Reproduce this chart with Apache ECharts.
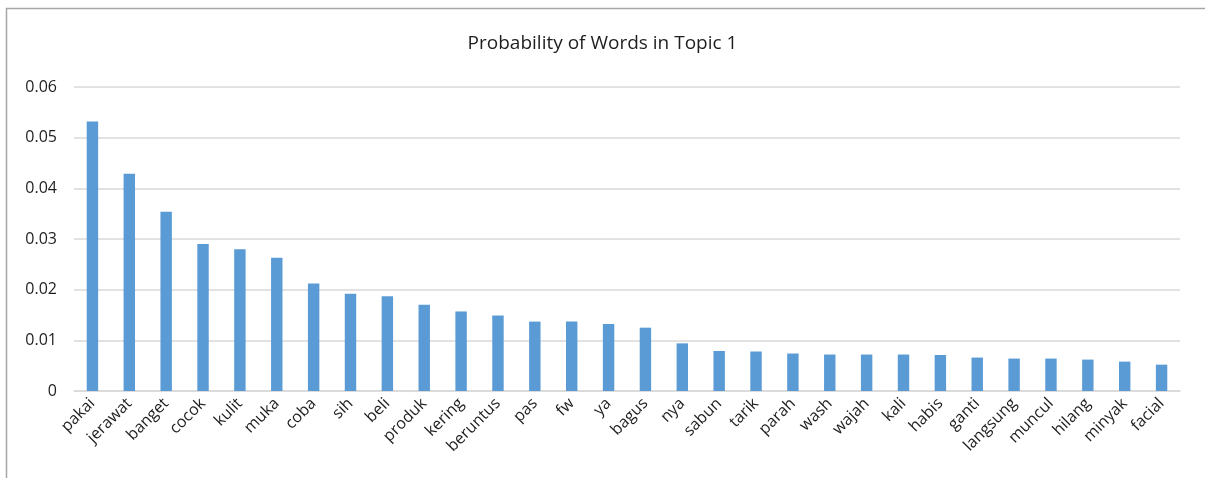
<!DOCTYPE html>
<html>
<head>
<meta charset="utf-8">
<script src="https://cdn.jsdelivr.net/npm/echarts@6/dist/echarts.min.js"></script>
<style>
  html, body { margin: 0; padding: 0; background: #fff; }
  #chart { width: 1205px; height: 478px; }
</style>
</head>
<body>
<div id="chart"></div>
<script>
// Words ranked by probability for topic 1
const words = ['pakai', 'jerawat', 'banget', 'cocok', 'kulit', 'muka', 'coba', 'sih', 'beli', 'produk',
  'kering', 'beruntus', 'pas', 'fw', 'ya', 'bagus', 'nya', 'sabun', 'tarik', 'parah',
  'wash', 'wajah', 'kali', 'habis', 'ganti', 'langsung', 'muncul', 'hilang', 'minyak', 'facial'];
const probabilities = [0.0532, 0.0429, 0.0354, 0.0290, 0.0280, 0.0263, 0.0212, 0.0192, 0.0187, 0.0170,
  0.0157, 0.0149, 0.0137, 0.0137, 0.0132, 0.0125, 0.0094, 0.0079, 0.0078, 0.0074,
  0.0072, 0.0072, 0.0072, 0.0071, 0.0066, 0.0064, 0.0064, 0.0062, 0.0058, 0.0052];
const yTicks = [0, 0.01, 0.02, 0.03, 0.04, 0.05, 0.06];
const titleText = 'Probability of Words in Topic 1';

const font = '"Open Sans", "Liberation Sans", sans-serif';
const textColor = '#1e1e1e';
const chart = echarts.init(document.getElementById('chart'), null, { renderer: 'canvas' });
chart.setOption({
  backgroundColor: '#ffffff',
  animation: false,
  title: {
    text: titleText,
    left: 'center',
    top: 29,
    textStyle: { fontFamily: font, fontSize: 19, fontWeight: 'normal', color: textColor }
  },
  graphic: [{
    type: 'polyline',
    shape: { points: [[6.5, 480], [6.5, 8.5], [1210, 8.5]] },
    style: { stroke: '#a6a6a6', lineWidth: 1.5, fill: null },
    silent: true
  }],
  grid: { left: 74, right: 25, top: 87, bottom: 87, containLabel: false },
  xAxis: {
    type: 'category',
    data: words,
    axisLine: { lineStyle: { color: '#d9d9d9', width: 1.5 } },
    axisTick: { show: false },
    axisLabel: {
      interval: 0, rotate: 45, margin: 10,
      fontFamily: font, fontSize: 16, color: textColor
    }
  },
  yAxis: {
    type: 'value',
    min: yTicks[0],
    max: yTicks[yTicks.length - 1],
    interval: yTicks[1] - yTicks[0],
    axisLine: { show: false },
    axisTick: { show: false },
    splitLine: { lineStyle: { color: '#d9d9d9', width: 1.5 } },
    axisLabel: {
      margin: 17,
      fontFamily: font, fontSize: 16, color: textColor,
      formatter: v => (Math.abs(v) < 1e-9 ? '0' : v.toFixed(2))
    }
  },
  series: [{
    type: 'bar',
    data: probabilities,
    barWidth: '31%',
    itemStyle: { color: '#5b9bd5' }
  }]
});
</script>
</body>
</html>
